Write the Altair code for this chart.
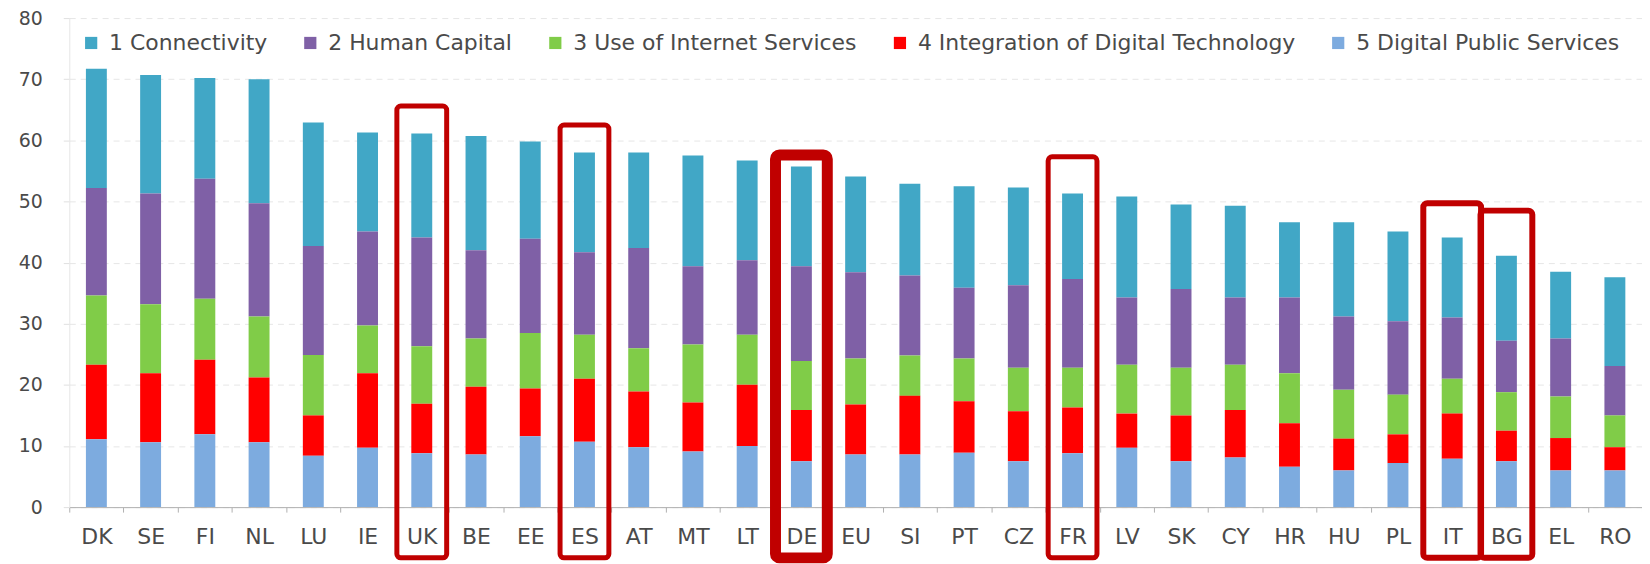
import altair as alt
import pandas as pd

countries = ["DK", "SE", "FI", "NL", "LU", "IE", "UK", "BE", "EE", "ES", "AT", "MT", "LT", "DE", "EU",
             "SI", "PT", "CZ", "FR", "LV", "SK", "CY", "HR", "HU", "PL", "IT", "BG", "EL", "RO"]

series = ["1 Connectivity", "2 Human Capital", "3 Use of Internet Services",
          "4 Integration of Digital Technology", "5 Digital Public Services"]

connectivity = [19.5, 19.4, 16.5, 20.3, 20.2, 16.2, 17.0, 18.7, 15.9, 16.3, 15.6, 18.1, 16.3, 16.3, 15.7,
                15.0, 16.6, 16.0, 14.0, 16.5, 13.8, 15.0, 12.3, 15.4, 14.7, 13.1, 13.9, 10.9, 14.5]
human_capital = [17.6, 18.1, 19.6, 18.5, 17.8, 15.4, 17.8, 14.4, 15.4, 13.5, 16.4, 12.8, 12.2, 15.5, 14.1,
                 13.1, 11.6, 13.5, 14.5, 11.0, 12.9, 11.0, 12.4, 12.0, 12.0, 10.0, 8.4, 9.5, 8.1]
internet_use = [11.3, 11.3, 10.0, 10.0, 9.9, 7.8, 9.4, 7.9, 9.1, 7.2, 7.1, 9.5, 8.2, 8.0, 7.5,
                6.6, 7.0, 7.1, 6.5, 8.0, 7.8, 7.4, 8.2, 8.0, 6.5, 5.7, 6.3, 6.8, 5.2]
digital_tech = [12.2, 11.3, 12.2, 10.6, 6.6, 12.2, 8.1, 11.1, 7.8, 10.3, 9.1, 8.0, 10.0, 8.4, 8.2,
                9.6, 8.4, 8.2, 7.5, 5.6, 7.5, 7.8, 7.1, 5.2, 4.7, 7.4, 5.0, 5.3, 3.8]
public_services = [11.1, 10.6, 11.9, 10.6, 8.4, 9.7, 8.8, 8.6, 11.6, 10.7, 9.8, 9.1, 10.0, 7.5, 8.6,
                   8.6, 8.9, 7.5, 8.8, 9.7, 7.5, 8.1, 6.6, 6.0, 7.2, 7.9, 7.5, 6.0, 6.0]

colors = ["#41A7C6", "#7F60A6", "#80CC48", "#FF0000", "#7DABDF"]

highlight_countries = ["UK", "ES", "DE", "FR", "IT", "BG"]
highlight_tops = [65.6, 62.5, 57.6, 57.3, 49.7, 48.5]
highlight_bottom = -8.3
highlight_stroke = [5, 5, 11, 5, 6, 6]
highlight_width = [50, 49, 52, 49, 58, 52]

all_values = [connectivity, human_capital, internet_use, digital_tech, public_services]
rows = []
for si, (name, vals) in enumerate(zip(series, all_values)):
    for c, v in zip(countries, vals):
        rows.append({"country": c, "component": name, "value": v, "stack": 4 - si})
df = pd.DataFrame(rows)

hl = pd.DataFrame({
    "country": highlight_countries,
    "top": highlight_tops,
    "bottom": [highlight_bottom] * len(highlight_countries),
    "sw": highlight_stroke,
    "w": highlight_width,
})

FONT = "DejaVu Sans"
TXT = "#4a4a4a"

xscale = alt.Scale(paddingInner=0, paddingOuter=0)
yscale = alt.Scale(domain=[0, 80], nice=False, zero=False)

bars = alt.Chart(df).mark_bar(size=21).encode(
    x=alt.X("country:N", sort=countries, scale=xscale, title=None,
            axis=alt.Axis(labelAngle=0, labelFont=FONT, labelFontSize=22, labelColor=TXT,
                          tickBand="extent", tickSize=5, tickColor="#b0b0b0",
                          domainColor="#b0b0b0", labelPadding=15, grid=False)),
    y=alt.Y("value:Q", stack="zero", scale=yscale, title=None,
            axis=alt.Axis(values=list(range(0, 81, 10)), labelFont=FONT, labelFontSize=19,
                          labelColor=TXT, tickSize=6, tickColor="#e0e0e0", domainColor="#e6e6e6",
                          labelPadding=21, gridColor="#e6e6e6", gridDash=[6, 5])),
    color=alt.Color("component:N", scale=alt.Scale(domain=series, range=colors),
                    legend=alt.Legend(title=None, orient="none", legendX=11, legendY=14,
                                      direction="horizontal", symbolType="square", symbolSize=150,
                                      symbolStrokeWidth=0, labelFont=FONT, labelFontSize=22,
                                      labelColor=TXT, labelLimit=0, labelOffset=7,
                                      columnPadding=32)),
    order=alt.Order("stack:Q", sort="ascending"),
)

boxes = alt.Chart(hl).mark_bar(filled=False, color="#C00000", cornerRadius=4).encode(
    x=alt.X("country:N", sort=countries, scale=xscale),
    y=alt.Y("top:Q", scale=yscale),
    y2="bottom:Q",
    strokeWidth=alt.StrokeWidth("sw:Q", scale=None, legend=None),
    size=alt.Size("w:Q", scale=None, legend=None),
)

chart = alt.layer(bars, boxes).properties(
    width=1579, height=491,
    padding={"left": 61.5, "top": 9, "right": 0, "bottom": 56},
    autosize=alt.AutoSizeParams(type="none"),
    background="white",
).configure_view(stroke=None)

chart.save("out.html", embed_options={"renderer": "svg", "actions": False})
